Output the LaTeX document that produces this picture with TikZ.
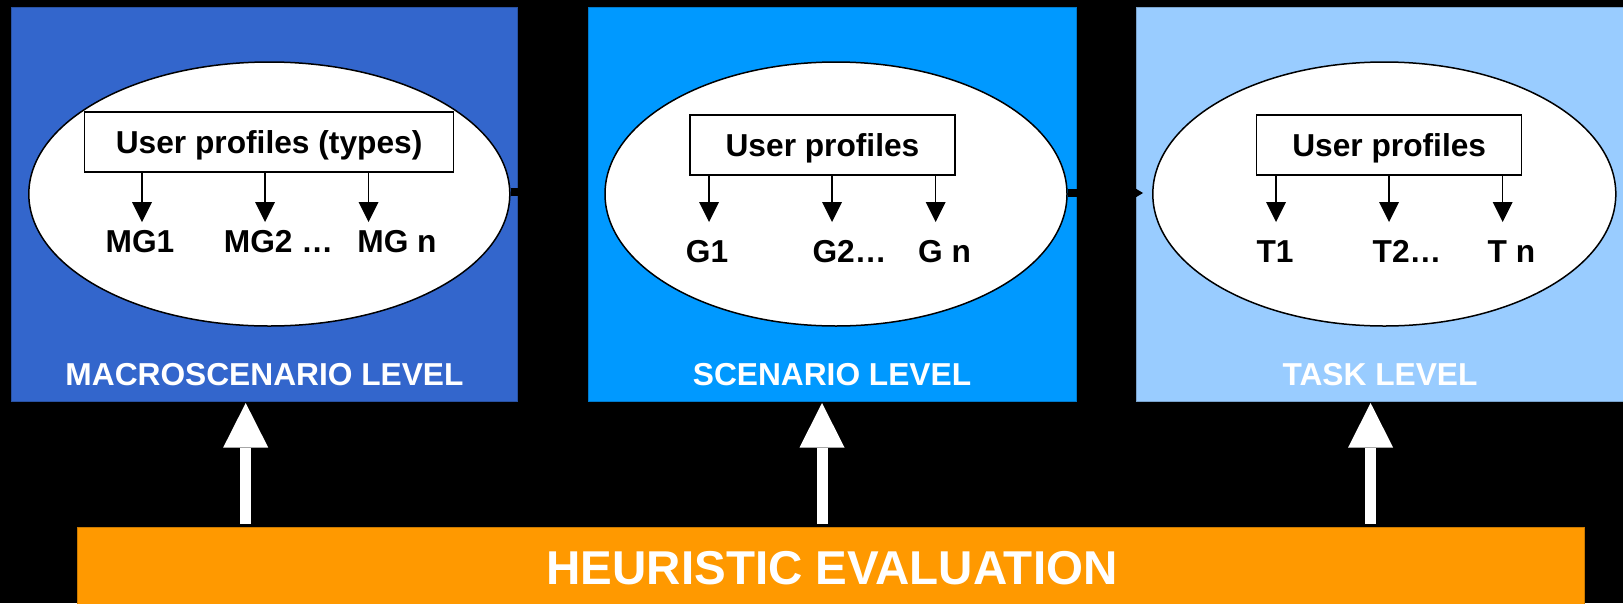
\documentclass[tikz,border=0pt]{standalone}
\usepackage{fontspec}
\setmainfont{Liberation Sans}
\usetikzlibrary{shapes.geometric,arrows.meta}
\definecolor{macro}{HTML}{3366CC}
\definecolor{scen}{HTML}{0099FF}
\definecolor{task}{HTML}{99CCFF}
\definecolor{heur}{HTML}{FF9900}
\begin{document}
\begin{tikzpicture}[x=1pt,y=-1pt,
  levelbox/.style={rectangle,inner sep=0pt,line width=1pt},
  oval/.style={ellipse,draw=black,fill=white,line width=1.5pt,inner sep=0pt,minimum height=264pt},
  profbox/.style={rectangle,draw=black,fill=white,line width=1.5pt,inner sep=0pt,minimum height=60pt,
    font=\fontsize{31.7}{38}\selectfont\bfseries,text height=23pt,text depth=0pt},
  item/.style={font=\fontsize{31.7}{38}\selectfont\bfseries,inner sep=0pt,anchor=base},
  lvl/.style={font=\fontsize{31.7}{38}\selectfont\bfseries,inner sep=0pt,anchor=base,text=white},
  down/.style={draw=black,line width=1.5pt,-{Triangle[width=20pt,length=20pt,line width=0pt]}},
  link/.style={draw=black,line width=8pt,-{Triangle[width=12pt,length=10pt,line width=0pt]}},
  up/.style={draw=white,line width=11pt,-{Triangle[width=45pt,length=44.5pt,line width=0pt]},
    shorten <=3pt,shorten >=1.5pt}]
\useasboundingbox (0,0) rectangle (1623,603);
\fill[black] (0,0) rectangle (1623,603);

% level boxes
\node[levelbox,fill=macro,draw=macro!80!black,minimum width=506pt,minimum height=394pt] (b1) at (264.5,204) {};
\node[levelbox,fill=scen,draw=scen!80!black,minimum width=488pt,minimum height=394pt] (b2) at (832,204) {};
\node[levelbox,fill=task,draw=task!80!black,minimum width=489pt,minimum height=394pt] (b3) at (1381,204) {};
\node[levelbox,fill=heur,draw=heur!80!black,minimum width=1507pt,minimum height=78pt] (h) at (831.3,566) {};

% level labels
\node[lvl] (l1) at (264.5,385) {MACROSCENARIO LEVEL};
\node[lvl] (l2) at (832,385) {SCENARIO LEVEL};
\node[lvl] (l3) at (1380,385) {TASK LEVEL};
\node[font=\fontsize{47.5}{56}\selectfont\bfseries,inner sep=0pt,anchor=base,text=white] (ht) at (832,584) {HEURISTIC EVALUATION};

% ellipses
\node[oval,minimum width=481pt] (e1) at (269.3,194) {};
\node[oval,minimum width=462pt] (e2) at (836,194) {};
\node[oval,minimum width=463pt] (e3) at (1384.3,194) {};

% profile boxes
\node[profbox,minimum width=369pt] (r1) at (269.1,142) {User profiles (types)};
\node[profbox,minimum width=265pt] (r2) at (822.5,145) {User profiles};
\node[profbox,minimum width=265pt] (r3) at (1389.2,145) {User profiles};

% items
\node[item] (m1) at (140,252) {MG1};
\node[item] (m2) at (278.5,252) {MG2 …};
\node[item] (m3) at (397,252) {MG n};
\node[item] (g1) at (707,262) {G1};
\node[item] (g2) at (849.5,262) {G2…};
\node[item] (g3) at (944.5,262) {G n};
\node[item] (t1) at (1275,262) {T1};
\node[item] (t2) at (1407,262) {T2…};
\node[item] (t3) at (1511.5,262) {T n};

% arrow tip coordinates
\coordinate (a11) at (142,222);
\coordinate (a12) at (265,222);
\coordinate (a13) at (368.6,222);
\coordinate (a21) at (709,222);
\coordinate (a22) at (832,222);
\coordinate (a23) at (935.7,222);
\coordinate (a31) at (1276,222);
\coordinate (a32) at (1389,222);
\coordinate (a33) at (1502.7,222);
\foreach \r/\a in {r1/a11,r1/a12,r1/a13,r2/a21,r2/a22,r2/a23,r3/a31,r3/a32,r3/a33}
  \draw[down] (\r.south -| \a) -- (\a);

% links between ellipses
\coordinate (c12) at (588,192);
\coordinate (c23) at (1143,193);
\draw[link] (e1.east |- c12) -- (c12);
\draw[link] (e2.east |- c23) -- (c23);

% evaluation arrows
\coordinate (u1) at (245.7,0);
\coordinate (u2) at (822,0);
\coordinate (u3) at (1370.6,0);
\draw[up] (h.north -| u1) -- (b1.south -| u1);
\draw[up] (h.north -| u2) -- (b2.south -| u2);
\draw[up] (h.north -| u3) -- (b3.south -| u3);
\end{tikzpicture}
\end{document}
